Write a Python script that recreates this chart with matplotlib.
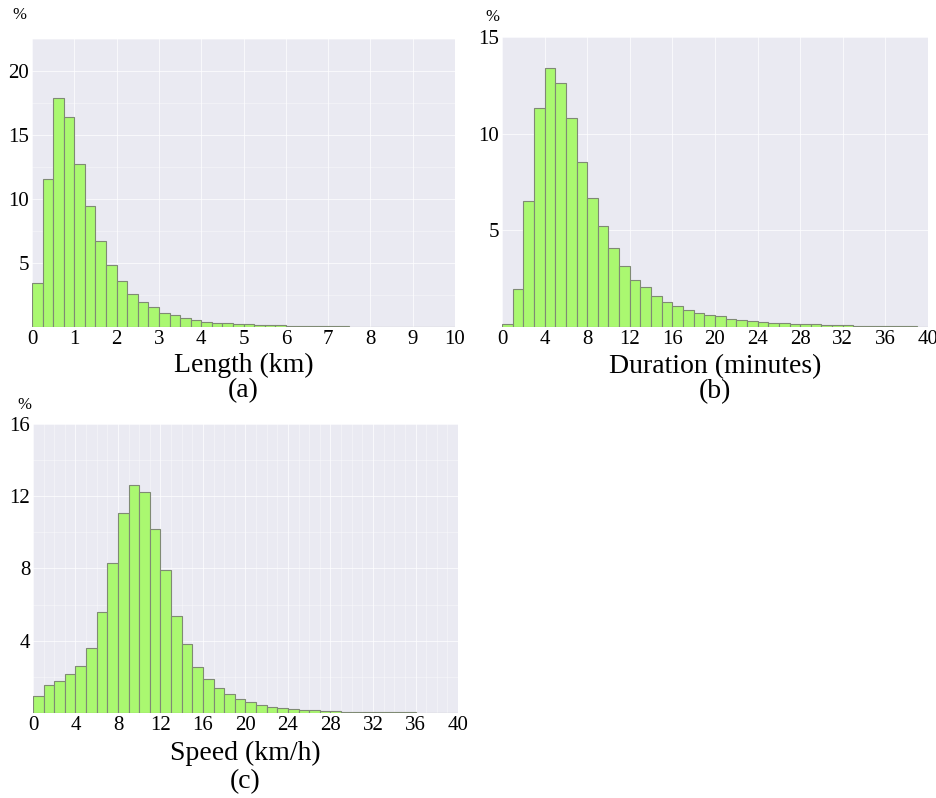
import matplotlib.pyplot as plt
import numpy as np
from matplotlib.ticker import MultipleLocator

plt.rcParams["font.family"] = ["Liberation Serif", "DejaVu Serif"]

# share of trips (%) per bin
length_bin_km = 0.25
length_pct = [3.47, 11.53, 17.86, 16.40, 12.70, 9.49, 6.73, 4.82, 3.62, 2.61,
              1.93, 1.59, 1.12, 0.96, 0.73, 0.57, 0.42, 0.34, 0.29, 0.26,
              0.21, 0.18, 0.15, 0.13, 0.11, 0.10, 0.08, 0.07, 0.06, 0.05,
              0.04, 0.04, 0.03, 0.03, 0.02, 0.02, 0.01, 0.01, 0.01, 0.01]

duration_bin_min = 1
duration_pct = [0.17, 1.98, 6.50, 11.34, 13.41, 12.64, 10.79, 8.55, 6.69, 5.21,
                4.07, 3.16, 2.43, 2.05, 1.59, 1.28, 1.09, 0.86, 0.74, 0.64,
                0.59, 0.40, 0.34, 0.33, 0.24, 0.22, 0.19, 0.17, 0.15, 0.15,
                0.10, 0.09, 0.08, 0.07, 0.06, 0.05, 0.04, 0.03, 0.03, 0.02]

speed_bin_kmh = 1
speed_pct = [0.96, 1.55, 1.77, 2.14, 2.62, 3.58, 5.59, 8.30, 11.07, 12.60,
             12.21, 10.18, 7.92, 5.39, 3.80, 2.56, 1.90, 1.37, 1.03, 0.79,
             0.61, 0.46, 0.35, 0.28, 0.22, 0.17, 0.14, 0.12, 0.10, 0.07,
             0.06, 0.05, 0.05, 0.04, 0.04, 0.03, 0, 0, 0, 0]

BG = "#eaeaf2"
BAR = "#aaf870"
EDGE = "#7f8a74"


def hist_panel(ax, values, width, xmax, xstep, ymax, ystep, yminor=None, xminor=None):
    edges = np.arange(len(values)) * width
    ax.set_facecolor(BG)
    ax.bar(edges, values, width=width, align="edge", color=BAR,
           edgecolor=EDGE, linewidth=0.8, zorder=2)
    ax.set_xlim(0, xmax)
    ax.set_ylim(0, ymax)
    ax.xaxis.set_major_locator(MultipleLocator(xstep))
    ax.yaxis.set_major_locator(MultipleLocator(ystep))
    if yminor:
        ax.yaxis.set_minor_locator(MultipleLocator(yminor))
    if xminor:
        ax.xaxis.set_minor_locator(MultipleLocator(xminor))
    ax.grid(which="major", color="white", linewidth=0.8, alpha=0.7, zorder=0)
    ax.grid(which="minor", color="white", linewidth=0.5, alpha=0.5, zorder=0)
    ax.set_axisbelow(True)
    for s in ax.spines.values():
        s.set_visible(False)
    ax.tick_params(which="both", length=0, labelsize=15, pad=2)
    yt = ax.get_yticks()
    ax.set_yticks(yt[(yt > 0) & (yt <= ymax)])


fig = plt.figure(figsize=(9.37, 7.98), dpi=100)
ax_a = fig.add_axes([0.0342, 0.5902, 0.4514, 0.3609])
ax_b = fig.add_axes([0.5357, 0.5902, 0.4547, 0.3634])
ax_c = fig.add_axes([0.0352, 0.1065, 0.4536, 0.3622])

hist_panel(ax_a, length_pct, length_bin_km, 10, 1, 22.5, 5, yminor=2.5)
hist_panel(ax_b, duration_pct, duration_bin_min, 40, 4, 15, 5)
hist_panel(ax_c, speed_pct, speed_bin_kmh, 40, 4, 16, 4, yminor=2, xminor=1)

ax_a.set_xlabel("Length (km)\n(a)", fontsize=20, linespacing=1.0, labelpad=3)
ax_b.set_xlabel("Duration (minutes)\n(b)", fontsize=20, linespacing=1.0, labelpad=4)
ax_c.set_xlabel("Speed (km/h)\n(c)", fontsize=20, linespacing=1.2, labelpad=4)

fig.text(19 / 937, 1 - 15 / 798, "%", fontsize=12, ha="center", va="center")
fig.text(492 / 937, 1 - 17 / 798, "%", fontsize=12, ha="center", va="center")
fig.text(24 / 937, 1 - 405 / 798, "%", fontsize=12, ha="center", va="center")

plt.savefig("out.png", dpi=100)
plt.close()
